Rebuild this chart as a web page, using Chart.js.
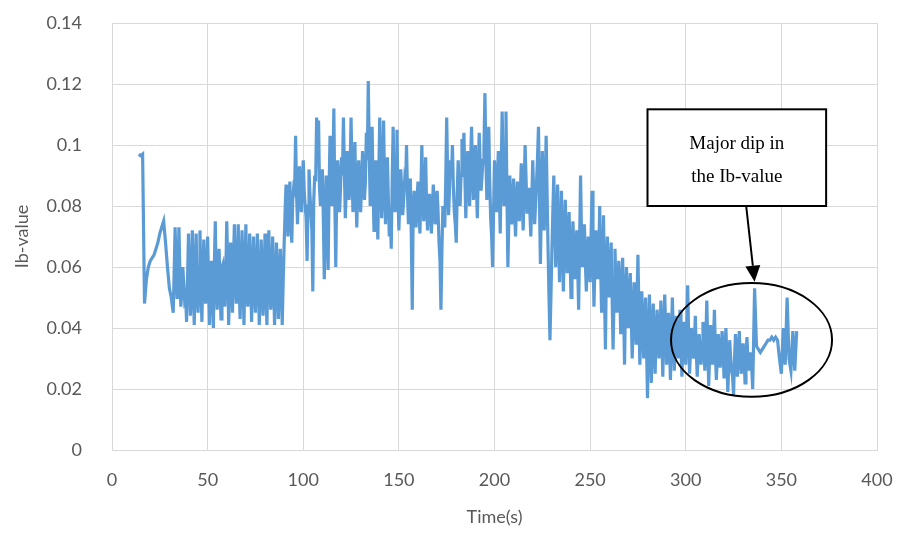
<!DOCTYPE html>
<html>
<head>
<meta charset="utf-8">
<title>Ib-value</title>
<script src="https://cdn.jsdelivr.net/npm/chart.js@4.4.0/dist/chart.umd.min.js"></script>
<style>
  html, body { margin: 0; padding: 0; background: #ffffff; }
  #wrap { width: 902px; height: 538px; }
</style>
</head>
<body>
<div id="wrap"><canvas id="ib" width="902" height="538"></canvas></div>
<script>
// whole-second samples: time (s)
const timeS = [
  14, 15, 16, 17, 18, 19, 20, 21, 22, 23,
  24, 25, 26, 27, 28, 29, 30, 31, 32, 33,
  34, 35, 36, 37, 38, 39, 40, 41, 42, 43,
  44, 45, 46, 47, 48, 49, 50, 51, 52, 53,
  54, 55, 56, 57, 58, 59, 60, 61, 62, 63,
  64, 65, 66, 67, 68, 69, 70, 71, 72, 73,
  74, 75, 76, 77, 78, 79, 80, 81, 82, 83,
  84, 85, 86, 87, 88, 89, 90, 91, 92, 93,
  94, 95, 96, 97, 98, 99, 100, 101, 102, 103,
  104, 105, 106, 107, 108, 109, 110, 111, 112, 113,
  114, 115, 116, 117, 118, 119, 120, 121, 122, 123,
  124, 125, 126, 127, 128, 129, 130, 131, 132, 133,
  134, 135, 136, 137, 138, 139, 140, 141, 142, 143,
  144, 145, 146, 147, 148, 149, 150, 151, 152, 153,
  154, 155, 156, 157, 158, 159, 160, 161, 162, 163,
  164, 165, 166, 167, 168, 169, 170, 171, 172, 173,
  174, 175, 176, 177, 178, 179, 180, 181, 182, 183,
  184, 185, 186, 187, 188, 189, 190, 191, 192, 193,
  194, 195, 196, 197, 198, 199, 200, 201, 202, 203,
  204, 205, 206, 207, 208, 209, 210, 211, 212, 213,
  214, 215, 216, 217, 218, 219, 220, 221, 222, 223,
  224, 225, 226, 227, 228, 229, 230, 231, 232, 233,
  234, 235, 236, 237, 238, 239, 240, 241, 242, 243,
  244, 245, 246, 247, 248, 249, 250, 251, 252, 253,
  254, 255, 256, 257, 258, 259, 260, 261, 262, 263,
  264, 265, 266, 267, 268, 269, 270, 271, 272, 273,
  274, 275, 276, 277, 278, 279, 280, 281, 282, 283,
  284, 285, 286, 287, 288, 289, 290, 291, 292, 293,
  294, 295, 296, 297, 298, 299, 300, 301, 302, 303,
  304, 305, 306, 307, 308, 309, 310, 311, 312, 313,
  314, 315, 316, 317, 318, 319, 320, 321, 322, 323,
  324, 325, 326, 327, 328, 329, 330, 331, 332, 333,
  334, 335, 336, 337, 338, 339, 340, 341, 342, 343,
  344, 345, 346, 347, 348, 349, 350, 351, 352, 353,
  354, 355, 356, 357, 358
];

// whole-second samples: Ib-value
const ibValue = [
  0.097, 0.0965, 0.097, 0.048, 0.056, 0.060, 0.062, 0.063, 0.064, 0.066,
  0.068, 0.071, 0.073, 0.075, 0.068, 0.060, 0.053, 0.050, 0.045, 0.073,
  0.050, 0.073, 0.047, 0.060, 0.049, 0.042, 0.071, 0.044, 0.072, 0.041,
  0.071, 0.045, 0.072, 0.042, 0.069, 0.048, 0.070, 0.041, 0.062, 0.040,
  0.075, 0.046, 0.066, 0.043, 0.061, 0.047, 0.075, 0.041, 0.068, 0.045,
  0.074, 0.048, 0.074, 0.043, 0.072, 0.041, 0.074, 0.047, 0.071, 0.042,
  0.070, 0.045, 0.071, 0.041, 0.069, 0.044, 0.071, 0.041, 0.072, 0.046,
  0.070, 0.041, 0.068, 0.043, 0.066, 0.041, 0.067, 0.087, 0.070, 0.088,
  0.068, 0.086, 0.103, 0.074, 0.093, 0.078, 0.095, 0.080, 0.062, 0.092,
  0.078, 0.052, 0.090, 0.109, 0.108, 0.080, 0.092, 0.056, 0.090, 0.059,
  0.103, 0.080, 0.112, 0.060, 0.095, 0.078, 0.096, 0.109, 0.076, 0.098,
  0.082, 0.109, 0.078, 0.101, 0.073, 0.095, 0.078, 0.098, 0.082, 0.104,
  0.121, 0.080, 0.106, 0.072, 0.095, 0.069, 0.109, 0.076, 0.108, 0.074,
  0.096, 0.070, 0.066, 0.106, 0.078, 0.105, 0.072, 0.092, 0.077, 0.088,
  0.100, 0.074, 0.089, 0.046, 0.085, 0.073, 0.088, 0.071, 0.100, 0.075,
  0.096, 0.072, 0.084, 0.071, 0.087, 0.074, 0.085, 0.068, 0.046, 0.080,
  0.073, 0.109, 0.077, 0.095, 0.100, 0.078, 0.068, 0.095, 0.080, 0.102,
  0.104, 0.076, 0.098, 0.080, 0.106, 0.082, 0.100, 0.076, 0.104, 0.085,
  0.095, 0.117, 0.082, 0.106, 0.076, 0.060, 0.095, 0.078, 0.098, 0.071,
  0.111, 0.080, 0.111, 0.060, 0.090, 0.074, 0.089, 0.070, 0.088, 0.075,
  0.094, 0.072, 0.100, 0.078, 0.086, 0.070, 0.095, 0.074, 0.088, 0.106,
  0.061, 0.098, 0.072, 0.103, 0.066, 0.036, 0.065, 0.090, 0.060, 0.087,
  0.055, 0.085, 0.052, 0.082, 0.058, 0.078, 0.050, 0.075, 0.056, 0.072,
  0.046, 0.090, 0.060, 0.074, 0.052, 0.070, 0.055, 0.085, 0.047, 0.072,
  0.056, 0.080, 0.045, 0.077, 0.033, 0.070, 0.050, 0.068, 0.033, 0.066,
  0.045, 0.062, 0.038, 0.063, 0.028, 0.060, 0.040, 0.058, 0.030, 0.055,
  0.035, 0.064, 0.028, 0.052, 0.030, 0.050, 0.017, 0.051, 0.022, 0.048,
  0.025, 0.046, 0.030, 0.049, 0.024, 0.051, 0.028, 0.045, 0.023, 0.050,
  0.026, 0.044, 0.030, 0.046, 0.024, 0.042, 0.028, 0.054, 0.025, 0.040,
  0.030, 0.044, 0.024, 0.038, 0.028, 0.042, 0.026, 0.049, 0.021, 0.041,
  0.028, 0.046, 0.023, 0.038, 0.027, 0.039, 0.024, 0.040, 0.019, 0.036,
  0.026, 0.018, 0.038, 0.024, 0.039, 0.025, 0.035, 0.022, 0.037, 0.026,
  0.032, 0.020, 0.053, 0.034, 0.033, 0.032, 0.033, 0.034, 0.035, 0.036,
  0.036, 0.037, 0.036, 0.037, 0.036, 0.030, 0.025, 0.040, 0.028, 0.050,
  0.030, 0.026, 0.039, 0.026, 0.039
];

// half-second samples in the noisy stretch: time (s)
const halfTimeS = [
  32.5, 33.5, 34.5, 35.5, 36.5, 37.5, 38.5, 39.5, 40.5, 41.5,
  42.5, 43.5, 44.5, 45.5, 46.5, 47.5, 48.5, 49.5, 50.5, 51.5,
  52.5, 53.5, 54.5, 55.5, 56.5, 57.5, 58.5, 59.5, 60.5, 61.5,
  62.5, 63.5, 64.5, 65.5, 66.5, 67.5, 68.5, 69.5, 70.5, 71.5,
  72.5, 73.5, 74.5, 75.5, 76.5, 77.5, 78.5, 79.5, 80.5, 81.5,
  82.5, 83.5, 84.5, 85.5, 86.5, 87.5, 88.5, 89.5, 90.5, 91.5,
  92.5, 93.5, 94.5, 95.5, 96.5, 97.5, 98.5, 99.5, 100.5, 101.5,
  102.5, 103.5, 104.5, 105.5, 106.5, 107.5, 108.5, 109.5, 110.5, 111.5,
  112.5, 113.5, 114.5, 115.5, 116.5, 117.5, 118.5, 119.5, 120.5, 121.5,
  122.5, 123.5, 124.5, 125.5, 126.5, 127.5, 128.5, 129.5, 130.5, 131.5,
  132.5, 133.5, 134.5, 135.5, 136.5, 137.5, 138.5, 139.5, 140.5, 141.5,
  142.5, 143.5, 144.5, 145.5, 146.5, 147.5, 148.5, 149.5, 150.5, 151.5,
  152.5, 153.5, 154.5, 155.5, 156.5, 157.5, 158.5, 159.5, 160.5, 161.5,
  162.5, 163.5, 164.5, 165.5, 166.5, 167.5, 168.5, 169.5, 170.5, 171.5,
  172.5, 173.5, 174.5, 175.5, 176.5, 177.5, 178.5, 179.5, 180.5, 181.5,
  182.5, 183.5, 184.5, 185.5, 186.5, 187.5, 188.5, 189.5, 190.5, 191.5,
  192.5, 193.5, 194.5, 195.5, 196.5, 197.5, 198.5, 199.5, 200.5, 201.5,
  202.5, 203.5, 204.5, 205.5, 206.5, 207.5, 208.5, 209.5, 210.5, 211.5,
  212.5, 213.5, 214.5, 215.5, 216.5, 217.5, 218.5, 219.5, 220.5, 221.5,
  222.5, 223.5, 224.5, 225.5, 226.5, 227.5, 228.5, 229.5, 230.5, 231.5,
  232.5, 233.5, 234.5, 235.5, 236.5, 237.5, 238.5, 239.5, 240.5, 241.5,
  242.5, 243.5, 244.5, 245.5, 246.5, 247.5, 248.5, 249.5, 250.5, 251.5,
  252.5, 253.5, 254.5, 255.5, 256.5, 257.5, 258.5, 259.5, 260.5, 261.5,
  262.5, 263.5, 264.5, 265.5, 266.5, 267.5, 268.5, 269.5, 270.5, 271.5,
  272.5, 273.5, 274.5, 275.5, 276.5, 277.5, 278.5, 279.5, 280.5, 281.5,
  282.5, 283.5, 284.5, 285.5, 286.5, 287.5, 288.5, 289.5, 290.5, 291.5,
  292.5, 293.5, 294.5, 295.5, 296.5, 297.5, 298.5, 299.5, 300.5, 301.5,
  302.5, 303.5, 304.5, 305.5, 306.5, 307.5, 308.5, 309.5, 310.5, 311.5,
  312.5, 313.5, 314.5, 315.5, 316.5, 317.5, 318.5, 319.5, 320.5, 321.5,
  322.5, 323.5, 324.5, 325.5, 326.5, 327.5, 328.5, 329.5, 330.5, 331.5,
  332.5, 333.5, 334.5
];

// half-second samples in the noisy stretch: Ib-value
const halfIbValue = [
  0.058, 0.060, 0.055, 0.058, 0.052, 0.055, 0.050, 0.056, 0.058, 0.052,
  0.055, 0.058, 0.052, 0.060, 0.054, 0.057, 0.053, 0.059, 0.055, 0.052,
  0.056, 0.060, 0.054, 0.058, 0.052, 0.060, 0.055, 0.057, 0.061, 0.054,
  0.058, 0.062, 0.055, 0.059, 0.053, 0.060, 0.056, 0.058, 0.054, 0.057,
  0.055, 0.059, 0.053, 0.058, 0.056, 0.052, 0.057, 0.055, 0.053, 0.058,
  0.056, 0.054, 0.055, 0.052, 0.057, 0.054, 0.056, 0.055, 0.078, 0.080,
  0.078, 0.076, 0.082, 0.085, 0.084, 0.086, 0.083, 0.088, 0.085, 0.076,
  0.080, 0.084, 0.072, 0.082, 0.088, 0.094, 0.086, 0.087, 0.076, 0.074,
  0.078, 0.085, 0.088, 0.090, 0.082, 0.085, 0.088, 0.086, 0.090, 0.092,
  0.086, 0.088, 0.092, 0.090, 0.086, 0.084, 0.088, 0.085, 0.087, 0.090,
  0.088, 0.095, 0.098, 0.090, 0.086, 0.084, 0.082, 0.090, 0.092, 0.086,
  0.088, 0.085, 0.082, 0.078, 0.088, 0.090, 0.086, 0.084, 0.082, 0.085,
  0.082, 0.086, 0.084, 0.082, 0.070, 0.080, 0.078, 0.082, 0.080, 0.084,
  0.085, 0.082, 0.080, 0.078, 0.080, 0.079, 0.081, 0.080, 0.078, 0.062,
  0.065, 0.078, 0.088, 0.090, 0.086, 0.090, 0.086, 0.074, 0.084, 0.088,
  0.090, 0.094, 0.090, 0.088, 0.090, 0.094, 0.092, 0.091, 0.088, 0.090,
  0.094, 0.090, 0.100, 0.096, 0.092, 0.088, 0.070, 0.078, 0.086, 0.088,
  0.085, 0.092, 0.094, 0.092, 0.084, 0.076, 0.082, 0.080, 0.079, 0.080,
  0.082, 0.084, 0.082, 0.086, 0.089, 0.082, 0.078, 0.082, 0.084, 0.081,
  0.096, 0.082, 0.080, 0.085, 0.086, 0.084, 0.050, 0.050, 0.078, 0.075,
  0.072, 0.070, 0.068, 0.068, 0.066, 0.070, 0.068, 0.064, 0.062, 0.066,
  0.064, 0.060, 0.068, 0.070, 0.066, 0.062, 0.061, 0.063, 0.070, 0.066,
  0.060, 0.068, 0.062, 0.060, 0.055, 0.052, 0.060, 0.058, 0.058, 0.050,
  0.050, 0.054, 0.050, 0.052, 0.050, 0.046, 0.050, 0.048, 0.050, 0.044,
  0.042, 0.045, 0.048, 0.046, 0.040, 0.042, 0.040, 0.034, 0.036, 0.038,
  0.036, 0.035, 0.038, 0.040, 0.036, 0.037, 0.038, 0.040, 0.036, 0.034,
  0.037, 0.038, 0.035, 0.038, 0.036, 0.034, 0.035, 0.036, 0.040, 0.038,
  0.033, 0.036, 0.034, 0.032, 0.032, 0.034, 0.035, 0.033, 0.036, 0.035,
  0.032, 0.034, 0.036, 0.032, 0.031, 0.033, 0.032, 0.033, 0.032, 0.030,
  0.028, 0.030, 0.024, 0.030, 0.031, 0.032, 0.030, 0.029, 0.030, 0.031,
  0.030, 0.029, 0.027
];

// axis ranges and tick steps
const xTicks = { min: 0, max: 400, step: 50 };
const yTicks = { min: 0, max: 0.14, step: 0.02 };

// callout text
const calloutLines = ['Major dip in', 'the Ib-value'];

const gridGrey = '#d9d9d9';
const labelGrey = '#595959';
const lineBlue = '#5b9bd5';

// callout box, arrow and ring around the dip, placed in data units
const callout = {
  box: { x0: 280, x1: 373.4, y0: 0.1117, y1: 0.080 },
  arrowFrom: { x: 331.6, y: 0.080 },
  arrowTo: { x: 336, y: 0.0552 },
  ring: { x: 334.4, y: 0.0361, rx: 42.1, ry: 0.01863 }
};

const calloutPlugin = {
  id: 'callout',
  afterDraw(chart) {
    const ctx = chart.ctx;
    const sx = chart.scales.x, sy = chart.scales.y;
    const px = v => sx.getPixelForValue(v);
    const py = v => sy.getPixelForValue(v);
    ctx.save();
    ctx.strokeStyle = '#000';
    ctx.fillStyle = '#000';
    ctx.lineWidth = 2;

    // ring
    const r = callout.ring;
    const cx = px(r.x), cy = py(r.y);
    const rx = px(r.x + r.rx) - cx, ry = cy - py(r.y + r.ry);
    ctx.beginPath();
    ctx.ellipse(cx, cy, rx, ry, 0, 0, Math.PI * 2);
    ctx.stroke();

    // box
    const b = callout.box;
    const bx = px(b.x0), by = py(b.y0);
    const bw = px(b.x1) - bx, bh = py(b.y1) - by;
    ctx.fillStyle = '#fff';
    ctx.fillRect(bx, by, bw, bh);
    ctx.strokeRect(bx, by, bw, bh);

    ctx.fillStyle = '#000';
    ctx.font = '19px "Liberation Serif", "Times New Roman", serif';
    ctx.textAlign = 'center';
    ctx.textBaseline = 'middle';
    ctx.fillText(calloutLines[0], bx + bw / 2, by + 35);
    ctx.fillText(calloutLines[1], bx + bw / 2, by + 68);

    // arrow
    const x1 = px(callout.arrowFrom.x), y1 = py(callout.arrowFrom.y);
    const x2 = px(callout.arrowTo.x), y2 = py(callout.arrowTo.y);
    const ang = Math.atan2(y2 - y1, x2 - x1);
    const head = 16, half = 7.5;
    const hx = x2 - head * Math.cos(ang), hy = y2 - head * Math.sin(ang);
    ctx.beginPath();
    ctx.moveTo(x1, y1);
    ctx.lineTo(hx, hy);
    ctx.stroke();
    ctx.beginPath();
    ctx.moveTo(x2, y2);
    ctx.lineTo(hx + half * Math.sin(ang), hy - half * Math.cos(ang));
    ctx.lineTo(hx - half * Math.sin(ang), hy + half * Math.cos(ang));
    ctx.closePath();
    ctx.fill();
    ctx.restore();
  }
};

// merge both sample sets into one time-ordered series
const points = timeS.map((t, i) => ({ x: t, y: ibValue[i] }))
  .concat(halfTimeS.map((t, i) => ({ x: t, y: halfIbValue[i] })))
  .sort((a, b) => a.x - b.x);

new Chart(document.getElementById('ib'), {
  type: 'line',
  data: {
    datasets: [{
      label: 'Ib-value',
      data: points,
      borderColor: lineBlue,
      borderWidth: 3.2,
      borderJoinStyle: 'miter',
      pointRadius: 0,
      tension: 0,
      fill: false
    }]
  },
  options: {
    responsive: false,
    animation: false,
    layout: { padding: { top: 23, right: 25, left: 0, bottom: 0 } },
    plugins: {
      legend: { display: false },
      tooltip: { enabled: false }
    },
    scales: {
      x: {
        type: 'linear',
        min: xTicks.min,
        max: xTicks.max,
        afterFit: s => {
          s.height = 88;
          s.paddingLeft = 0;
          s.paddingRight = 0;
        },
        ticks: {
          stepSize: xTicks.step,
          color: labelGrey,
          font: { family: 'Lato', size: 18 },
          padding: 19,
          maxRotation: 0
        },
        grid: { color: gridGrey, drawTicks: false },
        border: { color: gridGrey },
        title: {
          display: true,
          text: 'Time(s)',
          color: labelGrey,
          font: { family: 'Lato', size: 18 },
          padding: { top: 0, bottom: 10 }
        }
      },
      y: {
        min: yTicks.min,
        max: yTicks.max,
        afterFit: s => {
          s.width = 112;
          s.paddingTop = 0;
          s.paddingBottom = 0;
        },
        ticks: {
          stepSize: yTicks.step,
          color: labelGrey,
          font: { family: 'Lato', size: 18 },
          padding: 30,
          callback: v => String(+v.toFixed(2))
        },
        grid: { color: gridGrey, drawTicks: false },
        border: { color: gridGrey },
        title: {
          display: true,
          text: 'Ib-value',
          color: labelGrey,
          font: { family: 'Lato', size: 18 },
          padding: { top: 11, bottom: 0 }
        }
      }
    }
  },
  plugins: [calloutPlugin]
});
</script>
</body>
</html>
